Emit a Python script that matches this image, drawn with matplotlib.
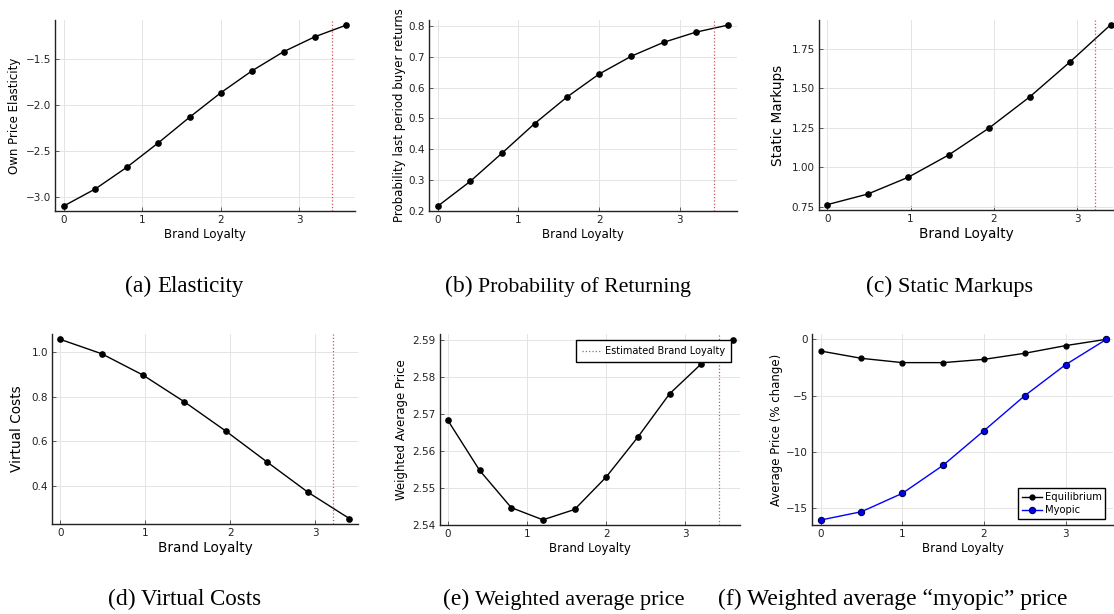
import matplotlib
matplotlib.use("Agg")
import matplotlib.pyplot as plt
from matplotlib.ticker import FuncFormatter

# ---------------- data ----------------
loyalty_10 = [0.0, 0.4, 0.8, 1.2, 1.6, 2.0, 2.4, 2.8, 3.2, 3.6]
loyalty_8a = [0.0, 0.486, 0.971, 1.457, 1.943, 2.429, 2.914, 3.4]
loyalty_8b = [0.0, 0.5, 1.0, 1.5, 2.0, 2.5, 3.0, 3.5]

elasticity = [-3.10, -2.915, -2.68, -2.415, -2.135, -1.867, -1.627, -1.42, -1.257, -1.13]
prob_return = [0.215, 0.295, 0.388, 0.483, 0.569, 0.644, 0.702, 0.747, 0.780, 0.803]
static_markups = [0.763, 0.830, 0.936, 1.077, 1.248, 1.444, 1.666, 1.900]
virtual_costs = [1.055, 0.991, 0.896, 0.777, 0.647, 0.509, 0.373, 0.256]
weighted_price = [2.5682, 2.5547, 2.5446, 2.5413, 2.5441, 2.5529, 2.5637, 2.5754, 2.5835, 2.5901]
equilibrium_change = [-1.04, -1.69, -2.07, -2.07, -1.78, -1.24, -0.56, 0.0]
myopic_change = [-16.04, -15.30, -13.67, -11.18, -8.11, -5.0, -2.25, 0.0]

est_loyalty_a = 3.42
est_loyalty_b = 3.21

captions = [("(a)", "Elasticity"), ("(b)", "Probability of Returning"),
            ("(c)", "Static Markups"), ("(d)", "Virtual Costs"),
            ("(e)", "Weighted average price"),
            ("(f)", "Weighted average \u201cmyopic\u201d price")]

# ---------------- style ----------------
plt.rcParams['font.family'] = ['DejaVu Sans']
fig = plt.figure(figsize=(11.14, 6.14), dpi=100)
W, H = 1114.0, 614.0


def fmt(decimals):
    return FuncFormatter(lambda v, p: f"{v:.{decimals}f}".replace("-", "\u2212"))


def make_ax(l, t, r, b):
    return fig.add_axes([l / W, 1 - b / H, (r - l) / W, (b - t) / H])


def style(ax, xlim, ylim, yticks, xlab_size=8.5):
    ax.set_xlim(*xlim)
    ax.set_ylim(*ylim)
    ax.set_xticks([0, 1, 2, 3])
    ax.set_yticks(yticks)
    for s in ['top', 'right']:
        ax.spines[s].set_visible(False)
    for s in ['left', 'bottom']:
        ax.spines[s].set_linewidth(1.0)
        ax.spines[s].set_color('#222222')
    ax.grid(True, color='#e4e4e4', linewidth=0.7)
    ax.set_axisbelow(True)
    ax.tick_params(direction='in', length=3, width=0.5, labelsize=7.5, pad=3,
                   colors='#222222')
    ax.set_xlabel("Brand Loyalty", fontsize=xlab_size, labelpad=2)


line_kw = dict(color='black', linewidth=1.0, marker='o', markersize=3.8)
vline_kw = dict(color='#cc5555', linestyle=':', linewidth=0.9)

# (a)
ax = make_ax(55, 20, 355, 211)
ax.plot(loyalty_10, elasticity, **line_kw)
ax.axvline(est_loyalty_a, **vline_kw)
style(ax, (-0.115, 3.71), (-3.156, -1.075), [-3.0, -2.5, -2.0, -1.5])
ax.yaxis.set_major_formatter(fmt(1))
ax.set_ylabel("Own Price Elasticity", fontsize=8.5, labelpad=3)

# (b)
ax = make_ax(429, 20, 737, 211)
ax.plot(loyalty_10, prob_return, **line_kw)
ax.axvline(est_loyalty_a, **vline_kw)
style(ax, (-0.11, 3.71), (0.199, 0.8195), [0.2, 0.3, 0.4, 0.5, 0.6, 0.7, 0.8])
ax.yaxis.set_major_formatter(fmt(1))
ax.set_ylabel("Probability last period buyer returns", fontsize=8.5, labelpad=2)

# (c)
ax = make_ax(819, 20, 1113, 210)
ax.plot(loyalty_8a, static_markups, **line_kw)
ax.axvline(est_loyalty_b, **vline_kw)
style(ax, (-0.1, 3.43), (0.729, 1.931), [0.75, 1.0, 1.25, 1.5, 1.75], xlab_size=9.8)
ax.yaxis.set_major_formatter(fmt(2))
ax.set_ylabel("Static Markups", fontsize=9.8, labelpad=5)

# (d)
ax = make_ax(52, 334, 358, 524)
ax.plot(loyalty_8a, virtual_costs, **line_kw)
ax.axvline(est_loyalty_b, **vline_kw)
style(ax, (-0.098, 3.50), (0.232, 1.079), [0.4, 0.6, 0.8, 1.0], xlab_size=9.8)
ax.yaxis.set_major_formatter(fmt(1))
ax.set_ylabel("Virtual Costs", fontsize=9.8, labelpad=5)

# (e)
ax = make_ax(440, 334, 740, 525)
ax.plot(loyalty_10, weighted_price, **line_kw)
ax.axvline(est_loyalty_a, label="Estimated Brand Loyalty", **vline_kw)
style(ax, (-0.10, 3.69), (2.5399, 2.5916), [2.54, 2.55, 2.56, 2.57, 2.58, 2.59])
ax.yaxis.set_major_formatter(fmt(2))
ax.set_ylabel("Weighted Average Price", fontsize=8.5, labelpad=3)
leg = ax.legend(loc='upper right', bbox_to_anchor=(0.97, 0.97), fontsize=7.0,
                frameon=True, fancybox=False, framealpha=1, edgecolor='black',
                handlelength=2.0, handletextpad=0.3, borderpad=0.65,
                borderaxespad=0.0)
leg.get_frame().set_linewidth(1.0)

# (f)
ax = make_ax(812, 334, 1113, 525)
ax.plot(loyalty_8b, equilibrium_change, color='black', linewidth=1.0, marker='o',
        markersize=3.5, label="Equilibrium")
ax.plot(loyalty_8b, myopic_change, color='#0000ff', linewidth=1.0, marker='o',
        markersize=4.5, markerfacecolor='#0000ee', markeredgecolor='#000044',
        markeredgewidth=0.8, label="Myopic")
style(ax, (-0.106, 3.58), (-16.48, 0.47), [0, -5, -10, -15])
ax.set_ylabel("Average Price (% change)", fontsize=8.5, labelpad=2)
leg = ax.legend(loc='lower right', bbox_to_anchor=(0.975, 0.03), fontsize=7.2,
                frameon=True, fancybox=False, framealpha=1, edgecolor='black',
                handlelength=2.0, handletextpad=0.3, borderpad=0.4,
                labelspacing=0.3, borderaxespad=0.0)
leg.get_frame().set_linewidth(1.0)

# ---------------- captions ----------------
cap_pos = [(125, 292), (445, 292), (866, 292), (108, 605), (443, 605), (718, 605)]
cap_size = [16.5, 15.7, 16, 16.5, 16, 17]
for (lab, txt), (x, y), cs in zip(captions, cap_pos, cap_size):
    t = fig.text(x / W, 1 - y / H, lab, fontsize=17, family='Liberation Serif',
                 ha='left', va='baseline')
    fig.add_artist(matplotlib.text.Annotation(
        txt, xy=(1, 1 - y / H), xycoords=(t, 'figure fraction'),
        xytext=(4, 0), textcoords='offset points', fontsize=cs,
        family='Liberation Serif', ha='left', va='baseline',
        annotation_clip=False))

fig.savefig("out.png", dpi=100)
